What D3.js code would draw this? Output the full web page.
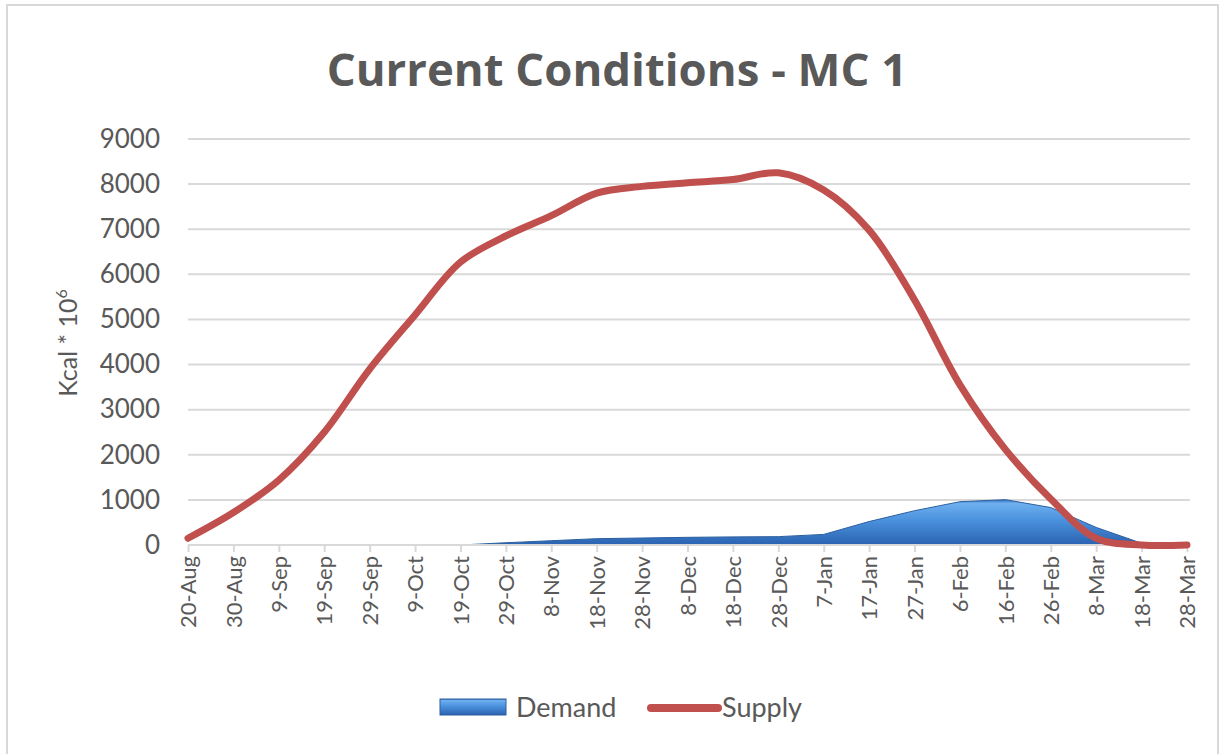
<!DOCTYPE html>
<html>
<head>
<meta charset="utf-8">
<script src="https://cdn.jsdelivr.net/npm/d3@7"></script>
<style>
  body { margin: 0; background: #fff; }
  text { font-family: Lato, "Open Sans", sans-serif; fill: #595959; }
  .title { font-family: "Open Sans", sans-serif; }
</style>
</head>
<body>
<svg id="chart" width="1222" height="754"></svg>
<script>
var dates = ["20-Aug", "30-Aug", "9-Sep", "19-Sep", "29-Sep", "9-Oct", "19-Oct", "29-Oct",
    "8-Nov", "18-Nov", "28-Nov", "8-Dec", "18-Dec", "28-Dec", "7-Jan", "17-Jan", "27-Jan",
    "6-Feb", "16-Feb", "26-Feb", "8-Mar", "18-Mar", "28-Mar"]

var demand = [0, 0, 0, 0, 0, 0, 0, 50, 95, 140, 155, 170, 180, 185, 235, 520, 760,
    960, 1005, 830, 390, 40, 0]

var supply = [150, 720, 1440, 2500, 3900, 5100, 6270, 6850, 7300, 7800, 7950, 8030, 8100,
    8250, 7870, 6980, 5430, 3550, 2120, 1020, 150, 0, 0]

var yTicks = [0, 1000, 2000, 3000, 4000, 5000, 6000, 7000, 8000, 9000]

var grid_color = '#d9d9d9'
var supply_color = '#c0504d'

var svg = d3.select("svg#chart")

// frame
svg.append("rect").attr("x", 7).attr("y", 5).attr("width", 1211).attr("height", 760)
    .attr("fill", "none").attr("stroke", grid_color).attr("stroke-width", 2)

var defs = svg.append("defs")
var grad = defs.append("linearGradient").attr("id", "demandFill")
    .attr("x1", 0).attr("y1", 0).attr("x2", 0).attr("y2", 1)
grad.append("stop").attr("offset", "0%").attr("stop-color", "#2f6cbc")
grad.append("stop").attr("offset", "8%").attr("stop-color", "#6eb0ef")
grad.append("stop").attr("offset", "45%").attr("stop-color", "#4b92de")
grad.append("stop").attr("offset", "100%").attr("stop-color", "#2a62b0")

var x = d3.scalePoint().domain(dates).range([188, 1187])
var y = d3.scaleLinear().domain([0, 9000]).range([545, 139])

// title
svg.append("text").attr("class", "title").attr("x", 617).attr("y", 86).attr("text-anchor", "middle")
    .style("font-size", "45.5px").style("font-weight", "bold").text("Current Conditions - MC 1")

// gridlines
svg.append("g").selectAll("line").data(yTicks.filter(d => d > 0)).enter().append("line")
    .attr("x1", 188).attr("x2", 1190)
    .attr("y1", d => y(d)).attr("y2", d => y(d))
    .attr("stroke", grid_color).attr("stroke-width", 2)

// y axis labels
var yAxis = svg.append("g").attr("transform", "translate(170,0)")
    .call(d3.axisLeft(y).tickValues(yTicks).tickFormat(d3.format("d")).tickSize(0).tickPadding(10))
yAxis.select(".domain").remove()
yAxis.selectAll("text").style("font-size", "26px").attr("fill", "#595959")

svg.append("text").attr("transform", "translate(77,343) rotate(-90)").attr("text-anchor", "middle")
    .style("font-size", "25px")
    .html('Kcal * 10<tspan dy="-10" style="font-size:16px">6</tspan>')

// demand area
var area = d3.area().x((d, i) => x(dates[i])).y0(y(0)).y1(d => y(d))
svg.append("path").datum(demand).attr("d", area)
    .attr("fill", "url(#demandFill)").attr("stroke", "#2c5f9f").attr("stroke-width", 1)

// x axis
var xAxis = svg.append("g").attr("transform", "translate(0," + y(0) + ")")
    .call(d3.axisBottom(x).tickSize(7).tickSizeOuter(0).tickPadding(6))
xAxis.select(".domain").attr("stroke", grid_color).attr("stroke-width", 2)
    .attr("d", "M188,0H1190")
xAxis.selectAll(".tick line").attr("stroke", grid_color).attr("stroke-width", 2)
xAxis.selectAll("text")
    .style("font-size", "22px").attr("fill", "#595959")
    .attr("text-anchor", "end")
    .attr("transform", "rotate(-90)")
    .attr("x", -11).attr("y", 0).attr("dy", "0.35em")

// supply line
var line = d3.line().x((d, i) => x(dates[i])).y(d => y(d)).curve(d3.curveCatmullRom.alpha(0.5))
svg.append("path").datum(supply).attr("d", line)
    .attr("fill", "none").attr("stroke", supply_color).attr("stroke-width", 7)
    .attr("stroke-linejoin", "round").attr("stroke-linecap", "round")

// legend
var legend = svg.append("g")
legend.append("rect").attr("x", 440).attr("y", 699).attr("width", 66).attr("height", 16)
    .attr("fill", "url(#demandFill)").attr("stroke", "#2c5f9f").attr("stroke-width", 1)
legend.append("text").attr("x", 516).attr("y", 717).style("font-size", "27px").text("Demand")
legend.append("line").attr("x1", 651).attr("x2", 718).attr("y1", 708).attr("y2", 708)
    .attr("stroke", supply_color).attr("stroke-width", 8).attr("stroke-linecap", "round")
legend.append("text").attr("x", 722).attr("y", 717).style("font-size", "27px").text("Supply")
</script>
</body>
</html>
